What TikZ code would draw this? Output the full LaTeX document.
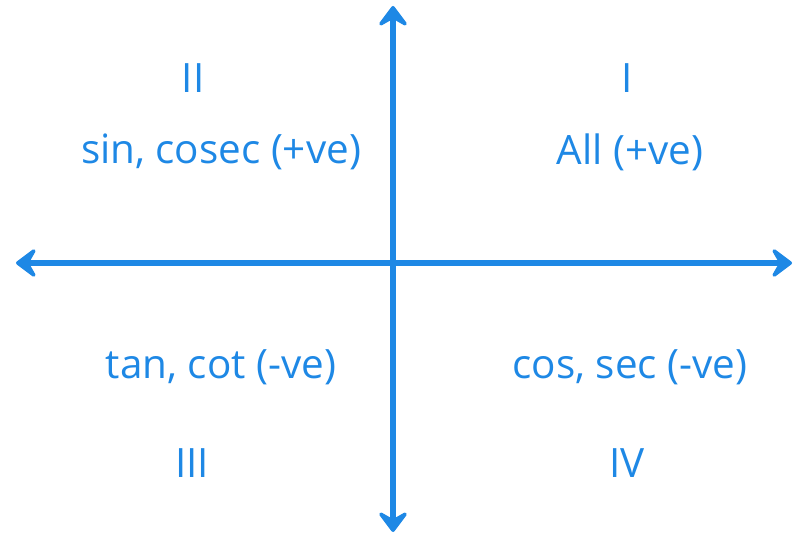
\documentclass[tikz,border=0pt]{standalone}
\usepackage{fontspec}
\setmainfont{Open Sans}
\usetikzlibrary{arrows.meta}
\definecolor{axisblue}{RGB}{30,136,229}

\tikzset{
  axis/.style={line width=3.3pt, axisblue,
    arrows={Stealth[length=14pt, width=21pt, inset=6pt, round]-Stealth[length=14pt, width=21pt, inset=6pt, round]}},
  quad/.style={text=axisblue, font=\fontsize{23}{27}\selectfont, inner sep=0pt}
}

\begin{document}
\begin{tikzpicture}[x=0.02cm, y=-0.02cm]
  \useasboundingbox (0,0) rectangle (794,536);

  \coordinate (west) at (16,263);
  \coordinate (east) at (792,263);
  \coordinate (north) at (393,6);
  \coordinate (south) at (393,532);

  \draw[axis] (west) -- (east);
  \draw[axis] (south) -- (north);

  \node[quad] (numII) at (193,78) {II};
  \node[quad] (numI) at (627,78) {I};
  \node[quad] (sinlbl) at (221,152) {sin, cosec (+ve)};
  \node[quad] (alllbl) at (630,152) {All (+ve)};

  \node[quad] (tanlbl) at (221,367) {tan, cot (-ve)};
  \node[quad] (coslbl) at (630,367) {cos, sec (-ve)};
  \node[quad] (numIII) at (192,463) {III};
  \node[quad] (numIV) at (627,463) {IV};
\end{tikzpicture}
\end{document}
